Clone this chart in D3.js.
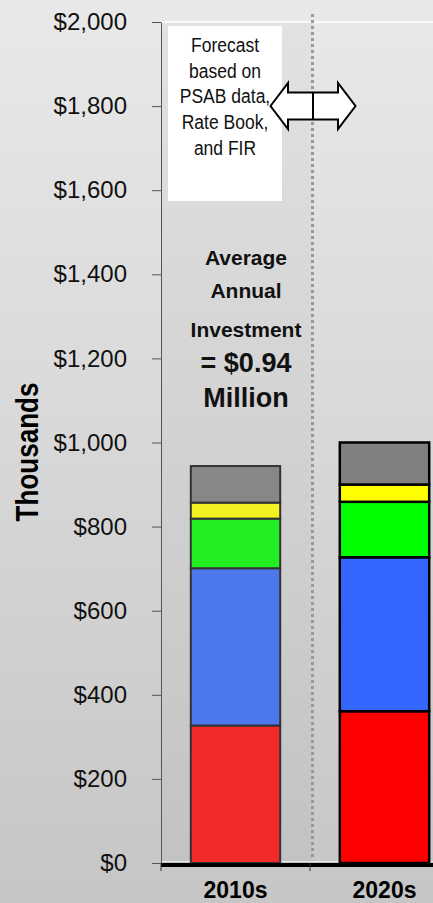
<!DOCTYPE html>
<html>
<head>
<meta charset="utf-8">
<script src="https://cdn.jsdelivr.net/npm/d3@7"></script>
<style>
body { margin: 0; }
svg { display: block; font-family: "Liberation Sans", Arial, sans-serif; }
</style>
</head>
<body>
<svg id="chart"></svg>
<script>
// values in thousands of dollars
const decades = ["2010s", "2020s"];
const seriesKeys = ["red", "blue", "green", "yellow", "gray"];
const redValues = [327, 361];
const blueValues = [374, 366];
const greenValues = [118, 132];
const yellowValues = [38, 41];
const grayValues = [87, 100];
const yTicks = [0, 200, 400, 600, 800, 1000, 1200, 1400, 1600, 1800, 2000];
const forecastLines = ["Forecast", "based on", "PSAB data,", "Rate Book,", "and FIR"];
const noteLines = ["Average", "Annual", "Investment", "= $0.94", "Million"];

const width = 433;
const height = 903;

// the 2010s bars look a bit washed out, the 2020s ones are pure colours
const palette = {
    "2010s": {red: "#f22a2a", blue: "#4d78ec", green: "#22ee22", yellow: "#f2f222", gray: "#878787"},
    "2020s": {red: "#ff0000", blue: "#3366ff", green: "#00ff00", yellow: "#ffff00", gray: "#808080"}
};
const outline = {"2010s": "#333333", "2020s": "#000000"};

let rows = decades.map(function (d, i) {
    return {decade: d, red: redValues[i], blue: blueValues[i], green: greenValues[i],
        yellow: yellowValues[i], gray: grayValues[i]};
});

let svg = d3.select("#chart")
    .attr("width", width)
    .attr("height", height);

let defs = svg.append("defs");
let grad = defs.append("linearGradient")
    .attr("id", "bg")
    .attr("x1", 0).attr("y1", 0)
    .attr("x2", 0).attr("y2", 1);
grad.append("stop").attr("offset", "0%").attr("stop-color", "#e9e9e9");
grad.append("stop").attr("offset", "100%").attr("stop-color", "#c6c6c6");

svg.append("rect")
    .attr("width", width)
    .attr("height", height)
    .attr("fill", "url(#bg)");

let x = d3.scaleBand()
    .domain(decades)
    .range([161, 459])
    .paddingInner(0.4)
    .paddingOuter(0.2);

let y = d3.scaleLinear()
    .domain([0, 2000])
    .range([863, 22]);

// boundary between history and forecast
let splitX = x.range()[0] + x.step() + 2.5;

// slightly darker shading over the historic part
svg.append("rect")
    .attr("x", x.range()[0])
    .attr("y", y(2000))
    .attr("width", splitX - x.range()[0])
    .attr("height", y(0) - y(2000))
    .attr("fill", "#000")
    .attr("opacity", 0.022);

// white plot border lines
svg.append("line")
    .attr("x1", x.range()[0]).attr("x2", width)
    .attr("y1", y(2000)).attr("y2", y(2000))
    .attr("stroke", "#ffffff")
    .attr("stroke-width", 1.5);
svg.append("line")
    .attr("x1", x.range()[0]).attr("x2", width)
    .attr("y1", y(0) - 1.5).attr("y2", y(0) - 1.5)
    .attr("stroke", "#ffffff")
    .attr("stroke-opacity", 0.6)
    .attr("stroke-width", 1);

// y axis
let yAxis = svg.append("g")
    .attr("transform", "translate(" + x.range()[0] + ",0)")
    .call(d3.axisLeft(y)
        .tickValues(yTicks)
        .tickSize(9)
        .tickSizeOuter(0)
        .tickPadding(25)
        .tickFormat(function (d) { return "$" + d3.format(",")(d); }));

yAxis.select(".domain").attr("stroke", "#555555");
yAxis.selectAll(".tick line").attr("stroke", "#555555");
yAxis.selectAll(".tick text")
    .attr("font-family", "Liberation Sans, Arial, sans-serif")
    .attr("font-size", 24)
    .attr("fill", "#111111");

// dotted divider
svg.append("line")
    .attr("x1", splitX).attr("x2", splitX)
    .attr("y1", 14).attr("y2", y(0) - 5)
    .attr("stroke", "#999999")
    .attr("stroke-width", 3)
    .attr("stroke-dasharray", "3,3");

// stacked bars
let stacked = d3.stack().keys(seriesKeys)(rows);

let layers = svg.append("g")
    .attr("class", "bars")
    .selectAll("g")
    .data(stacked)
    .enter().append("g");

layers.selectAll("rect")
    .data(function (layer) {
        return layer.map(function (d) { return {key: layer.key, d0: d[0], d1: d[1], decade: d.data.decade}; });
    })
    .enter().append("rect")
    .attr("x", function (d) { return x(d.decade); })
    .attr("y", function (d) { return y(d.d1); })
    .attr("width", x.bandwidth())
    .attr("height", function (d) { return y(d.d0) - y(d.d1); })
    .attr("fill", function (d) { return palette[d.decade][d.key]; })
    .attr("stroke", function (d) { return outline[d.decade]; })
    .attr("stroke-width", function (d) { return d.decade === "2010s" ? 2 : 2.5; });

// x axis
svg.append("line")
    .attr("x1", x.range()[0]).attr("x2", width)
    .attr("y1", y(0) + 2).attr("y2", y(0) + 2)
    .attr("stroke", "#000000")
    .attr("stroke-width", 4);

let xTickPos = [x.range()[0], x.range()[0] + x.step()];
svg.append("g")
    .selectAll("line")
    .data(xTickPos)
    .enter().append("line")
    .attr("x1", function (d) { return d; })
    .attr("x2", function (d) { return d; })
    .attr("y1", y(0))
    .attr("y2", y(0) + 8)
    .attr("stroke", "#333333")
    .attr("stroke-width", 1);

svg.append("g")
    .selectAll("text")
    .data(decades)
    .enter().append("text")
    .attr("x", function (d) { return x(d) + x.bandwidth() / 2; })
    .attr("y", 898)
    .attr("text-anchor", "middle")
    .attr("font-size", 23)
    .attr("font-weight", "bold")
    .attr("fill", "#000")
    .text(function (d) { return d; });

// y axis title
svg.append("text")
    .attr("transform", "translate(38,452) rotate(-90) scale(0.84,1)")
    .attr("text-anchor", "middle")
    .attr("font-size", 31)
    .attr("font-weight", "bold")
    .attr("fill", "#000")
    .text("Thousands");

// forecast note box
svg.append("rect")
    .attr("x", 168)
    .attr("y", 26)
    .attr("width", 114)
    .attr("height", 175)
    .attr("fill", "#ffffff");

let forecastText = svg.append("g")
    .attr("transform", "translate(225,0) scale(0.875,1)");

forecastText.selectAll("text")
    .data(forecastLines)
    .enter().append("text")
    .attr("x", 0)
    .attr("y", function (d, i) { return 52 + i * 25.7; })
    .attr("text-anchor", "middle")
    .attr("font-size", 20)
    .attr("fill", "#111")
    .text(function (d) { return d; });

// double headed arrow across the divider
let ax = splitX + 0.5;
let ay = 106;
let arrowPts = [
    [-42.5, 0], [-25, -23], [-25, -13.5], [25, -13.5], [25, -23], [42.5, 0],
    [25, 23], [25, 13.5], [-25, 13.5], [-25, 23]
];
svg.append("polygon")
    .attr("points", arrowPts.map(function (p) { return (ax + p[0]) + "," + (ay + p[1]); }).join(" "))
    .attr("fill", "#ffffff")
    .attr("stroke", "#000000")
    .attr("stroke-width", 2)
    .attr("stroke-linejoin", "miter");
svg.append("line")
    .attr("x1", ax).attr("x2", ax)
    .attr("y1", ay - 13.5).attr("y2", ay + 13.5)
    .attr("stroke", "#000000")
    .attr("stroke-width", 2);

// average annual investment note
let noteBase = [265, 298, 337, 372, 407];
let noteSize = [21, 21, 21, 27, 27];
svg.append("g")
    .selectAll("text")
    .data(noteLines)
    .enter().append("text")
    .attr("x", 246)
    .attr("y", function (d, i) { return noteBase[i]; })
    .attr("text-anchor", "middle")
    .attr("font-size", function (d, i) { return noteSize[i]; })
    .attr("font-weight", "bold")
    .attr("fill", "#111")
    .text(function (d) { return d; });
</script>
</body>
</html>
